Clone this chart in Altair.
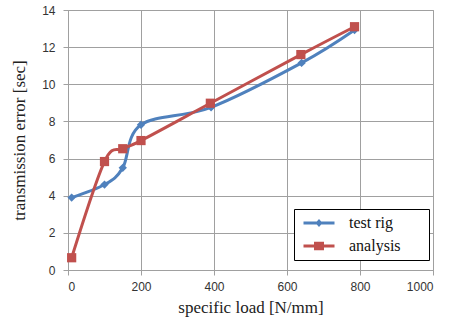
import altair as alt
import pandas as pd

# data
series = ["test rig", "analysis"]
colors = ["#4F81BD", "#C0504D"]
load_test = [10, 100, 150, 200, 392, 640, 785]
err_test = [3.9, 4.6, 5.5, 7.82, 8.76, 11.15, 12.92]
load_an = [10, 100, 150, 200, 390, 638, 785]
err_an = [0.66, 5.84, 6.53, 6.97, 8.98, 11.6, 13.1]
x_ticks = [0, 200, 400, 600, 800, 1000]
y_ticks = [0, 2, 4, 6, 8, 10, 12, 14]

df = pd.concat([
    pd.DataFrame({"load": load_test, "err": err_test, "series": series[0]}),
    pd.DataFrame({"load": load_an, "err": err_an, "series": series[1]}),
], ignore_index=True)

grid = "#A0A0A0"
sans = "Liberation Sans"
serif = "Liberation Serif"

x = alt.X("load:Q",
          scale=alt.Scale(domain=[0, 1000], nice=False, zero=False),
          axis=alt.Axis(values=x_ticks, title="specific load [N/mm]", format="d",
                        labelFont=sans, labelFontSize=12, labelColor="#333",
                        labelPadding=6, tickSize=5, tickColor=grid, domainColor=grid,
                        gridColor=grid, titleFont=serif, titleFontSize=17,
                        titleFontWeight="normal", titleColor="#222", titlePadding=7))
y = alt.Y("err:Q",
          scale=alt.Scale(domain=[0, 14], nice=False),
          axis=alt.Axis(values=y_ticks, title="transmission error [sec]", format="d",
                        labelFont=sans, labelFontSize=12, labelColor="#333",
                        labelPadding=8, tickSize=5, tickColor=grid, domainColor=grid,
                        gridColor=grid, titleFont=serif, titleFontSize=17,
                        titleFontWeight="normal", titleColor="#222", titlePadding=13))

base = alt.Chart(df)

def series_layers(name, color, shape, size):
    sel = alt.datum.series == name
    line = base.transform_filter(sel).mark_line(
        interpolate="cardinal", strokeWidth=3, color=color).encode(x=x, y=y)
    pts = base.transform_filter(sel).mark_point(
        shape=shape, filled=True, size=size, opacity=1, color=color).encode(x=x, y=y)
    return [line, pts]

# legend glyph: line segment + marker; the trailing bare move-to widens the
# legend frame to the right without drawing anything
line_bar = "M-3.1,-0.3H3.1V0.3H-3.1Z"
paths = [line_bar + "M0,-0.8L0.7,0L0,0.8L-0.7,0Z M20.8,0",
         line_bar + "M-1,-0.85H1V0.85H-1Z M20.8,0"]

leg = dict(orient="none", legendX=226, legendY=199, labelFont=serif, labelFontSize=16)

legend_layer = base.transform_filter("false").mark_point(filled=True, opacity=1).encode(
    x=x, y=y,
    color=alt.Color("series:N", scale=alt.Scale(domain=series, range=colors), title=None,
                    legend=alt.Legend(**leg)),
    shape=alt.Shape("series:N", scale=alt.Scale(domain=series, range=paths), title=None,
                    legend=alt.Legend(**leg)),
)

layers = series_layers(series[0], colors[0], "diamond", 70) + \
    series_layers(series[1], colors[1], "square", 85) + [legend_layer]

chart = alt.layer(*layers).properties(
    width=365, height=260,
    autosize=alt.AutoSizeParams(type="none"),
    padding={"left": 68, "top": 10, "right": 22, "bottom": 50},
    background="white",
).configure_view(stroke=grid, strokeWidth=1).configure_axis(
    gridWidth=1, domainWidth=1
).configure_legend(
    strokeColor="black", fillColor="white", padding=6, symbolSize=100,
    labelColor="#111", rowPadding=7,
    symbolOffset=11, labelOffset=22, cornerRadius=0,
)

chart.save("out.html", embed_options={"renderer": "svg", "actions": False})
